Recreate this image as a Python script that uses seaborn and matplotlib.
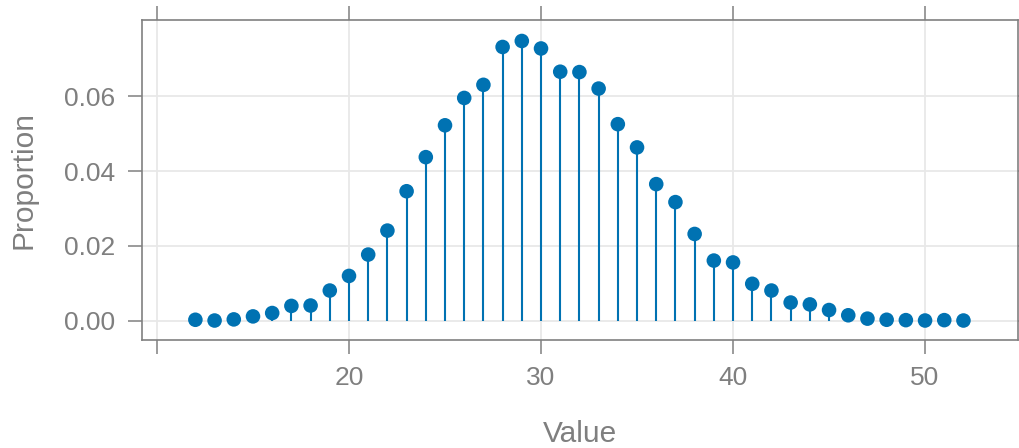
import matplotlib
matplotlib.use("Agg")
import matplotlib.pyplot as plt
import seaborn as sns
import pandas as pd

# Observed proportions for each integer value
values = list(range(12, 53))
proportions = [
    0.0003, 0.0001, 0.0004, 0.0012, 0.0021, 0.0040, 0.0041, 0.0081, 0.0120, 0.0177,
    0.0241, 0.0346, 0.0437, 0.0522, 0.0595, 0.0630, 0.0731, 0.0747, 0.0727, 0.0665,
    0.0664, 0.0620, 0.0525, 0.0463, 0.0365, 0.0317, 0.0232, 0.0161, 0.0156, 0.0099,
    0.0081, 0.0049, 0.0044, 0.0029, 0.0015, 0.0006, 0.0003, 0.0002, 0.0001, 0.0002,
    0.0001,
]
x_ticks = [10, 20, 30, 40, 50]
y_ticks = [0.00, 0.02, 0.04, 0.06]
y_tick_labels = ["0.00", "0.02", "0.04", "0.06"]

df = pd.DataFrame({"Value": values, "Proportion": proportions})

sns.set_theme(style="white")
plt.rcParams["font.family"] = ["Liberation Sans", "DejaVu Sans"]

text_grey = "#7f7f7f"
frame_grey = "#808080"
blue = "#0072B2"

fig = plt.figure(figsize=(10.2, 4.48), dpi=100)
ax = fig.add_axes([142 / 1020, 108 / 448, 876 / 1020, 320 / 448])

# Stems from zero up to each proportion
ax.vlines(df["Value"], 0, df["Proportion"], color=blue, linewidth=1.5, zorder=2)
sns.scatterplot(data=df, x="Value", y="Proportion", ax=ax, color=blue,
                s=110, edgecolor="none", zorder=3, legend=False)

ax.set_xlim(9.22, 54.84)
ax.set_ylim(-0.0051, 0.0803)
ax.set_xticks(x_ticks)
ax.set_xticklabels(["", "20", "30", "40", "50"])
ax.set_yticks(y_ticks)
ax.set_yticklabels(y_tick_labels)

ax.grid(True, color="#e8e8e8", linewidth=1.3, zorder=0)
ax.set_axisbelow(True)

for side in ["left", "right", "top", "bottom"]:
    ax.spines[side].set_visible(True)
    ax.spines[side].set_color(frame_grey)
    ax.spines[side].set_linewidth(1.2)

ax.tick_params(axis="both", which="both", direction="out", length=10,
               width=1.1, color=frame_grey, labelcolor=text_grey,
               labelsize=19, pad=9,
               top=True, right=True, bottom=True, left=True,
               labeltop=False, labelright=False)

ax.set_xlabel("Value", fontsize=21.5, color=text_grey, labelpad=21)
ax.set_ylabel("Proportion", fontsize=21.5, color=text_grey, labelpad=19)

fig.savefig("out.png", dpi=100)
